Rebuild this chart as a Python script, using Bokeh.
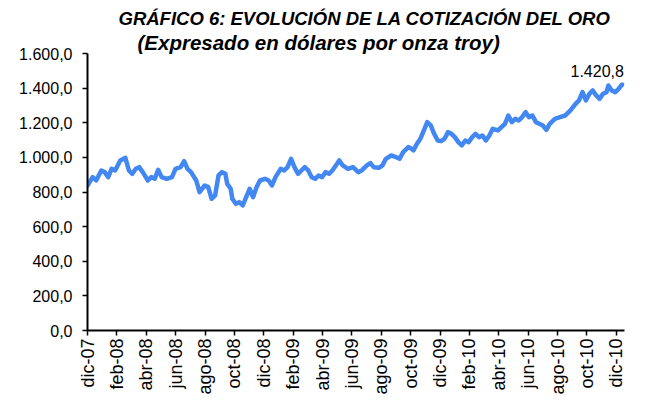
import math
from bokeh.plotting import figure
from bokeh.models import FixedTicker, Label, Range1d, Title
from bokeh.embed import file_html
from bokeh.resources import INLINE

# months since dic-07 (0 = dic-07, 36 = dic-10)
months = [0.00, 0.35, 0.59, 0.94, 1.17, 1.41, 1.64, 1.88, 2.23, 2.58, 2.82, 3.05, 3.29, 3.52, 3.76,
          4.11, 4.34, 4.58, 4.81, 5.05, 5.40, 5.75, 5.99, 6.34, 6.58, 6.81, 7.05, 7.40, 7.63, 7.98,
          8.22, 8.45, 8.69, 8.92, 9.16, 9.39, 9.51, 9.75, 9.86, 10.10, 10.33, 10.57, 10.80, 11.04,
          11.27, 11.51, 11.74, 12.09, 12.33, 12.56, 12.80, 13.15, 13.39, 13.62, 13.86, 14.09, 14.33,
          14.56, 14.79, 15.03, 15.26, 15.50, 15.73, 15.97, 16.20, 16.44, 16.67, 16.91, 17.14, 17.38,
          17.73, 18.08, 18.43, 18.67, 19.02, 19.26, 19.49, 19.84, 20.08, 20.31, 20.67, 21.02, 21.25,
          21.49, 21.84, 22.07, 22.19, 22.43, 22.66, 22.90, 23.13, 23.37, 23.60, 23.84, 24.07, 24.31,
          24.54, 24.78, 25.01, 25.25, 25.48, 25.72, 25.95, 26.19, 26.42, 26.66, 26.89, 27.12, 27.36,
          27.59, 27.95, 28.18, 28.42, 28.65, 28.89, 29.12, 29.36, 29.59, 29.83, 30.06, 30.29, 30.53,
          30.76, 31.00, 31.24, 31.47, 31.82, 32.17, 32.53, 32.88, 33.23, 33.46, 33.70, 33.93, 34.17,
          34.40, 34.63, 34.87, 35.10, 35.34, 35.46, 35.69, 35.93, 36.16, 36.40]

# gold price, USD per troy ounce
prices = [837.6, 885.8, 866.5, 924.3, 914.7, 885.8, 933.9, 924.3, 982.1, 997.5, 924.3, 905.0, 933.9, 943.5, 914.7,
          866.5, 885.8, 876.1, 928.1, 885.8, 876.1, 885.8, 933.9, 943.5, 978.2, 933.9, 914.7, 866.5, 799.1, 837.6,
          828.0, 760.6, 779.9, 895.4, 914.7, 905.0, 847.3, 818.4, 760.6, 731.7, 741.3, 722.1, 770.2, 818.4,
          770.2, 828.0, 866.5, 876.1, 866.5, 837.6, 885.8, 933.9, 924.3, 943.5, 991.7, 943.5, 905.0,
          924.3, 943.5, 924.3, 885.8, 876.1, 895.4, 885.8, 914.7, 905.0, 924.3, 953.2, 982.1, 953.2,
          933.9, 943.5, 914.7, 924.3, 953.2, 966.7, 943.5, 939.7, 953.2, 991.7, 1010.9, 1001.3, 991.7,
          1030.2, 1059.1, 1049.5, 1039.8, 1078.3, 1107.2, 1155.4, 1203.5, 1184.3, 1136.1, 1097.6, 1093.8, 1107.2,
          1145.7, 1136.1, 1116.9, 1088.0, 1068.7, 1097.6, 1088.0, 1116.9, 1136.1, 1116.9, 1126.5, 1097.6, 1126.5,
          1165.0, 1155.4, 1174.6, 1193.9, 1242.0, 1203.5, 1222.8, 1213.1, 1232.4, 1261.3, 1232.4, 1242.0, 1203.5,
          1193.9, 1184.3, 1159.2, 1193.9, 1222.8, 1232.4, 1242.0, 1270.9, 1309.4, 1328.7, 1376.8, 1328.7, 1367.2,
          1386.5, 1357.6, 1338.3, 1367.2, 1376.8, 1415.3, 1386.5, 1376.8, 1396.1, 1420.8]

tick_positions = [0, 2, 4, 6, 8, 10, 12, 14, 16, 18, 20, 22, 24, 26, 28, 30, 32, 34, 36]
tick_labels = ["dic-07", "feb-08", "abr-08", "jun-08", "ago-08", "oct-08", "dic-08", "feb-09", "abr-09",
               "jun-09", "ago-09", "oct-09", "dic-09", "feb-10", "abr-10", "jun-10", "ago-10", "oct-10", "dic-10"]
y_ticks = [0, 200, 400, 600, 800, 1000, 1200, 1400, 1600]
y_tick_labels = ["0,0", "200,0", "400,0", "600,0", "800,0", "1.000,0", "1.200,0", "1.400,0", "1.600,0"]

title_text = "GRÁFICO 6: EVOLUCIÓN DE LA COTIZACIÓN DEL ORO"
subtitle_text = "(Expresado en dólares por onza troy)"
last_label = "1.420,8"

FONT = "Liberation Sans"

p = figure(width=647, height=403, output_backend="svg", toolbar_location=None,
           title=None,
           x_range=Range1d(0, 36.56), y_range=Range1d(0, 1600),
           min_border_left=87, min_border_right=23, min_border_top=53, min_border_bottom=73)
p.outline_line_color = None
p.xgrid.visible = False
p.ygrid.visible = False
p.background_fill_color = "white"
p.border_fill_color = "white"

p.line(months, prices, line_color="#4388F2", line_width=4.5, line_join="round", line_cap="round")

for ax in (p.xaxis[0], p.yaxis[0]):
    ax.axis_line_color = "black"
    ax.axis_line_width = 2
    ax.major_tick_line_color = "black"
    ax.major_tick_line_width = 1.5
    ax.major_tick_out = 5
    ax.major_tick_in = 0
    ax.minor_tick_line_color = None
    ax.major_label_text_font = FONT
    ax.major_label_text_color = "black"

p.xaxis.ticker = FixedTicker(ticks=tick_positions)
p.xaxis.major_label_overrides = dict(zip(tick_positions, tick_labels))
p.xaxis.major_label_orientation = math.pi / 2
p.xaxis.major_label_standoff = 3
p.xaxis.major_label_text_font_size = "18px"

p.yaxis.ticker = FixedTicker(ticks=y_ticks)
p.yaxis.major_label_overrides = dict(zip(y_ticks, y_tick_labels))
p.yaxis.major_label_standoff = 10
p.yaxis.major_label_text_font_size = "16px"

p.add_layout(Title(text=subtitle_text, align="left", offset=50, standoff=0,
                   text_font=FONT, text_font_size="20.5px", text_font_style="bold italic",
                   text_color="black"), "above")
p.add_layout(Title(text=title_text, align="left", offset=31, standoff=0,
                   text_font=FONT, text_font_size="18.5px", text_font_style="bold italic",
                   text_color="black"), "above")

p.add_layout(Label(x=months[-1] + 0.12, y=prices[-1] + 80, text=last_label, text_align="right",
                   text_baseline="alphabetic", text_font=FONT, text_font_size="16px", text_color="black"))

open("out.html", "w").write(file_html(p, INLINE))
